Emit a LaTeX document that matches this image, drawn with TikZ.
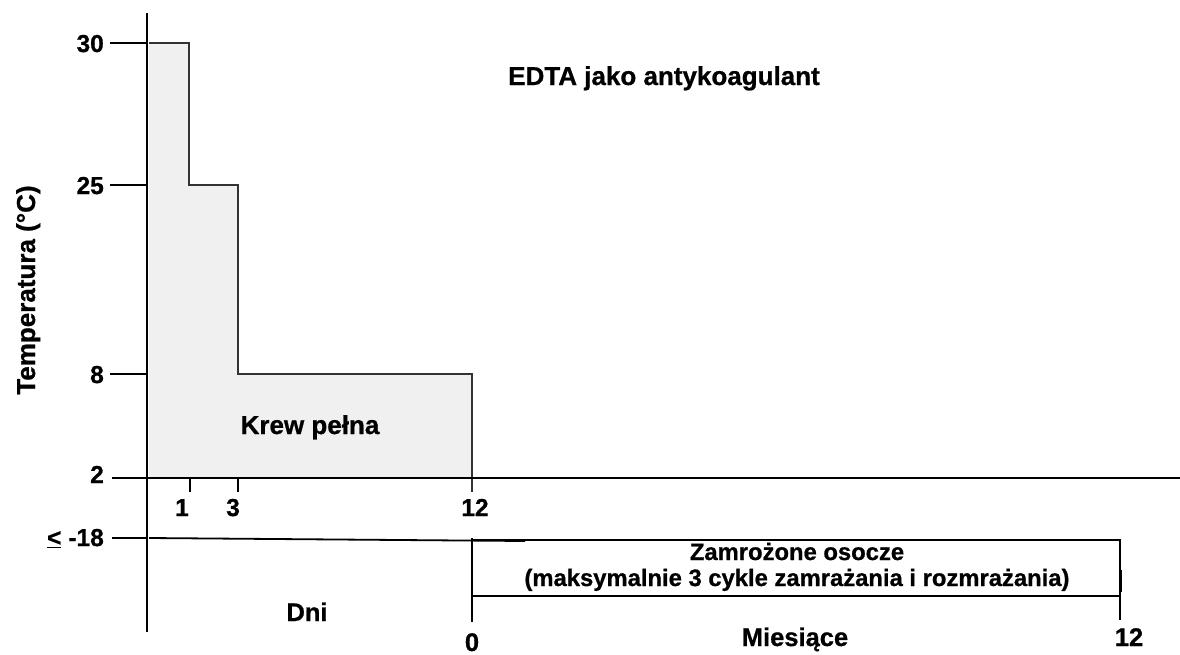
\documentclass[tikz,border=0pt]{standalone}
\usepackage{fontspec}
\setmainfont{Liberation Sans}[BoldFeatures={FakeBold=0.8}]
\definecolor{fillgray}{HTML}{F0F0F0}
\definecolor{linegray}{HTML}{333333}
\begin{document}
\begin{tikzpicture}[x=1pt,y=-1pt,
  ax/.style={line width=1.3pt,black},
  stepline/.style={line width=1.5pt,linegray},
  lab/.style={font=\fontsize{24.5}{26}\selectfont\bfseries,inner sep=0pt},
  clab/.style={font=\fontsize{25.5}{28}\selectfont\bfseries,inner sep=0pt},
  title/.style={font=\fontsize{26}{28}\selectfont\bfseries,inner sep=0pt},
  boxtext/.style={font=\fontsize{23.8}{26}\selectfont\bfseries,inner sep=0pt,align=center}]
\useasboundingbox (0,0) rectangle (1180,654);
% fill region
\fill[fillgray] (149,43) -- (189,43) -- (189,185) -- (238,185) -- (238,374) -- (472,374) -- (472,478) -- (149,478) -- cycle;
\draw[stepline] (149,43) -- (189,43) -- (189,185) -- (238,185) -- (238,374) -- (472,374) -- (472,492);
% y axis
\draw[ax] (147,13) -- (147,632);
% y ticks
\draw[ax] (110,43) -- (147,43);
\draw[ax] (110,185) -- (147,185);
\draw[ax] (110,374) -- (147,374);
\draw[ax] (112,478) -- (1180,478);
\draw[ax] (112,538) -- (147,538);
% x ticks
\draw[ax] (190,478) -- (190,492);
\draw[ax] (238,478) -- (238,492);
% -18 line
\draw[line width=1.8pt] (149,538) -- (525,541);
% frozen box
\draw[ax] (472,540) rectangle (1120,596);
\draw[ax] (472,538) -- (472,622);
\draw[ax] (1120,596) -- (1120,620);
\draw[line width=2pt] (1121,570) -- (1121,592);
% labels
\node[lab,anchor=base east] (l30) at (104,52) {30};
\node[lab,anchor=base east] (l25) at (104,194) {25};
\node[lab,anchor=base east] (l8) at (104,383) {8};
\node[lab,anchor=base east] (l2) at (104,483) {2};
\node[lab,anchor=base east] (l18) at (104,546) {\underline{<}\hspace{7pt}-18};
\node[lab,anchor=base] (x1) at (182,516) {1};
\node[lab,anchor=base] (x3) at (233,516) {3};
\node[lab,anchor=base] (x12) at (475,516) {12};
\node[clab,anchor=base] (x0) at (472,651) {0};
\node[clab,anchor=base] (m12) at (1129,646) {12};
\node[clab,anchor=base] (dni) at (307,621) {Dni};
\node[clab,anchor=base] (mies) at (795,646) {Miesiące};
\node[title,anchor=base] (edta) at (664,85) {EDTA jako antykoagulant};
\node[title,anchor=base] (krew) at (310,434) {Krew pełna};
\node[title,rotate=90,anchor=base] (temp) at (35,290) {Temperatura (°C)};
\node[boxtext,anchor=base] (zam1) at (797,560) {Zamrożone osocze};
\node[boxtext,anchor=base] (zam2) at (797,586) {(maksymalnie 3 cykle zamrażania i rozmrażania)};
\end{tikzpicture}
\end{document}
